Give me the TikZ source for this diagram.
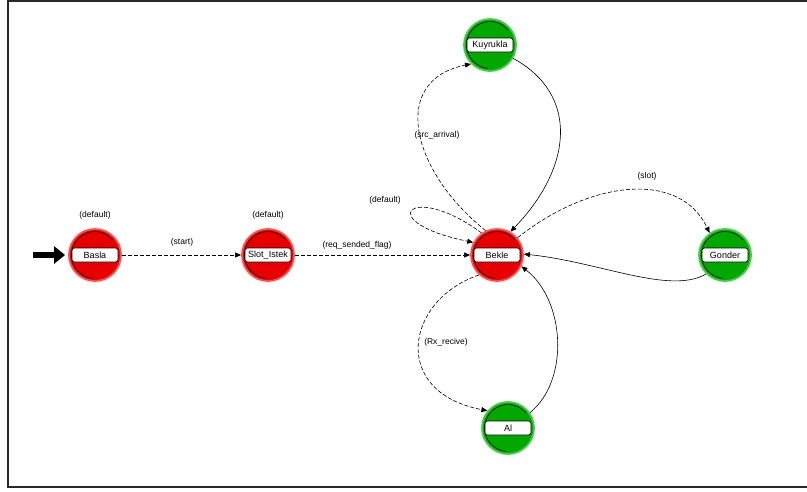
\documentclass[tikz,border=0pt]{standalone}
\usepackage{fontspec}
\setmainfont{Liberation Sans}
\usetikzlibrary{arrows.meta}
\definecolor{statered}{RGB}{232,0,0}
\definecolor{ringred}{RGB}{255,80,80}
\definecolor{stategreen}{RGB}{0,168,0}
\definecolor{ringgreen}{RGB}{70,205,70}
\definecolor{framegray}{RGB}{40,40,40}
\tikzset{
  redstate/.style={circle,minimum size=52pt,inner sep=0pt,fill=statered,draw=ringred,line width=1.8pt,
    path picture={\draw[black,line width=0.6pt] ([shift={(40:23.5pt)}]path picture bounding box.center)
      arc[start angle=40,end angle=265,radius=23.5pt];}},
  greenstate/.style={redstate,fill=stategreen,draw=ringgreen},
  namebox/.style={draw=black,fill=white,rounded corners=2.5pt,minimum width=46pt,minimum height=14pt,
    inner sep=1.5pt,font=\fontsize{9}{10}\selectfont,line width=0.6pt},
  translabel/.style={font=\fontsize{8.5}{9}\selectfont,inner sep=1pt},
  trans/.style={-{Triangle[length=6pt,width=5pt]},line width=0.6pt,dash pattern=on 4pt off 2pt},
  transsolid/.style={-{Triangle[length=6pt,width=5pt]},line width=0.6pt},
  initarrow/.style={-{Triangle[length=11pt,width=17pt]},line width=6pt}
}

\begin{document}
\begin{tikzpicture}[x=1pt,y=-1pt]
  \useasboundingbox (0,0) rectangle (807,491);
  % frame
  \draw[framegray,line width=1.5pt] (807,0.75) -- (8,0.75) -- (8,487) -- (807,487);
  % states
  \node[redstate] (basla) at (95,255) {};
  \node[namebox] (basla-n) at (basla) {Basla};
  \node[redstate] (slot) at (268,255) {};
  \node[namebox] (slot-n) at (slot) {Slot\_Istek};
  \node[redstate] (bekle) at (497,255) {};
  \node[namebox] (bekle-n) at (bekle) {Bekle};
  \node[greenstate] (kuyruk) at (490,45) {};
  \node[namebox] (kuyruk-n) at (kuyruk) {Kuyrukla};
  \node[greenstate] (gonder) at (725,255) {};
  \node[namebox] (gonder-n) at (gonder) {Gonder};
  \node[greenstate] (al) at (508,428) {};
  \node[namebox] (al-n) at (al) {Al};
  % labels
  \node[translabel] (lb-def1) at (95,215) {(default)};
  \node[translabel] (lb-def2) at (268,215) {(default)};
  \node[translabel] (lb-start) at (182,242) {(start)};
  \node[translabel] (lb-req) at (357,245) {(req\_sended\_flag)};
  \node[translabel] (lb-def3) at (385,200) {(default)};
  \node[translabel] (lb-src) at (437,135) {(src\_arrival)};
  \node[translabel] (lb-slot) at (647,176) {(slot)};
  \node[translabel] (lb-rx) at (446,342) {(Rx\_recive)};
  % transitions
  \coordinate (init) at (33,255);
  \draw[initarrow,shorten >=3pt] (init) -- (basla);
  \draw[trans] (basla) -- (slot);
  \draw[trans] (slot) -- (bekle);
  \draw[trans] (bekle.125) .. controls (410,180) and (372,222) .. (bekle.152);
  \draw[trans] (bekle.115) .. controls (410,170) and (390,80) .. (kuyruk.225);
  \draw[transsolid] (kuyruk.-30) .. controls (580,95) and (572,168) .. (bekle.60);
  \draw[trans] (bekle.40) .. controls (590,180) and (680,170) .. (gonder.125);
  \draw[transsolid] (gonder.225) .. controls (670,295) and (600,262) .. (bekle.2);
  \draw[trans] (bekle.228) .. controls (405,300) and (390,392) .. (al.140);
  \draw[transsolid] (al.35) .. controls (570,380) and (565,300) .. (bekle.-25);
\end{tikzpicture}
\end{document}
